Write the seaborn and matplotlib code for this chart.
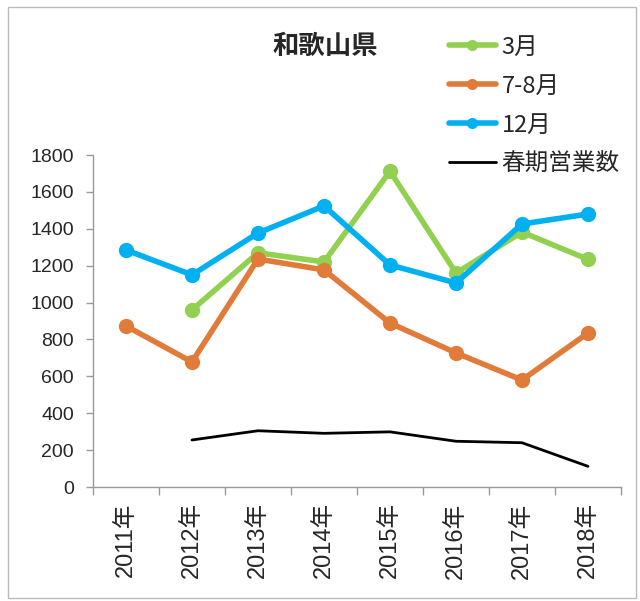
import matplotlib
matplotlib.use("Agg")
import matplotlib.pyplot as plt
import seaborn as sns
import pandas as pd
import numpy as np
from matplotlib.patches import Rectangle
from matplotlib.lines import Line2D

sns.set_style("white")
plt.rcParams['font.family'] = ['Noto Sans CJK JP', 'DejaVu Sans']

years = ["2011年", "2012年", "2013年", "2014年", "2015年", "2016年", "2017年", "2018年"]
mar = [np.nan, 960, 1270, 1220, 1712, 1160, 1382, 1234]
julaug = [873, 678, 1236, 1177, 889, 727, 580, 835]
dec = [1285, 1150, 1377, 1524, 1204, 1106, 1426, 1480]
spring_ops = [np.nan, 255, 305, 291, 299, 248, 240, 112]
series_names = ["3月", "7-8月", "12月", "春期営業数"]
colors = ["#92D050", "#E07B39", "#00B0F0", "#000000"]

idx = np.arange(len(years))
frames = []
for name, vals in zip(series_names, [mar, julaug, dec, spring_ops]):
    frames.append(pd.DataFrame({"pos": idx, "value": vals, "series": name}))
df = pd.concat(frames, ignore_index=True)

fig = plt.figure(figsize=(6.4, 6.01), dpi=100)
ax = fig.add_axes([93/640, 1-487/601, (621-93)/640, (487-155)/601])

for name, col in zip(series_names, colors):
    sub = df[df.series == name].dropna()
    if name == "春期営業数":
        sns.lineplot(data=sub, x="pos", y="value", color=col, linewidth=2.0, ax=ax, legend=False)
    else:
        sns.lineplot(data=sub, x="pos", y="value", color=col, linewidth=4.0, marker="o",
                     markersize=11, markeredgewidth=0, ax=ax, legend=False)

ax.set_xlim(-0.5, len(years) - 0.5)
ax.set_ylim(0, 1800)
ax.set_yticks(np.arange(0, 1801, 200))
ax.set_yticklabels([str(v) for v in range(0, 1801, 200)], fontsize=14,
                   family=['Liberation Sans Narrow', 'Liberation Sans'])
ax.set_xticks(idx)
ax.set_xticklabels(years, rotation=90, fontsize=17, family=['Liberation Sans', 'Noto Sans CJK JP'])
ax.set_xticks(np.arange(-0.5, len(years)), minor=True)
ax.tick_params(axis='x', which='major', length=0, pad=11)
ax.tick_params(axis='x', which='minor', length=6, color='#999999', width=1, direction='out', bottom=True)
ax.tick_params(axis='y', length=4.7, color='#999999', width=1, direction='out', left=True, pad=9)
ax.set_xlabel("")
ax.set_ylabel("")
for s in ['top', 'right']:
    ax.spines[s].set_visible(False)
for s in ['left', 'bottom']:
    ax.spines[s].set_color('#999999')
    ax.spines[s].set_linewidth(1)

fig.text(325/640, 1-46/601, "和歌山県", ha='center', va='center', fontsize=19, fontweight='bold')

handles = []
for name, col in zip(series_names, colors):
    if name == "春期営業数":
        handles.append(Line2D([], [], color=col, linewidth=2.0))
    else:
        handles.append(Line2D([], [], color=col, linewidth=4.0, marker='o', markersize=8, markeredgewidth=0))
fig.legend(handles, series_names, loc='upper left', bbox_to_anchor=(432/640, 1-19/601),
           bbox_transform=fig.transFigure, frameon=False, fontsize=17, labelspacing=0.68,
           handlelength=2.0, handletextpad=0.25, borderpad=0.2)

fig.patches.append(Rectangle((8/640, 3/601), 628/640, 591/601, transform=fig.transFigure,
                             fill=False, edgecolor='#BBBBBB', linewidth=1))

fig.savefig("out.png", dpi=100)
